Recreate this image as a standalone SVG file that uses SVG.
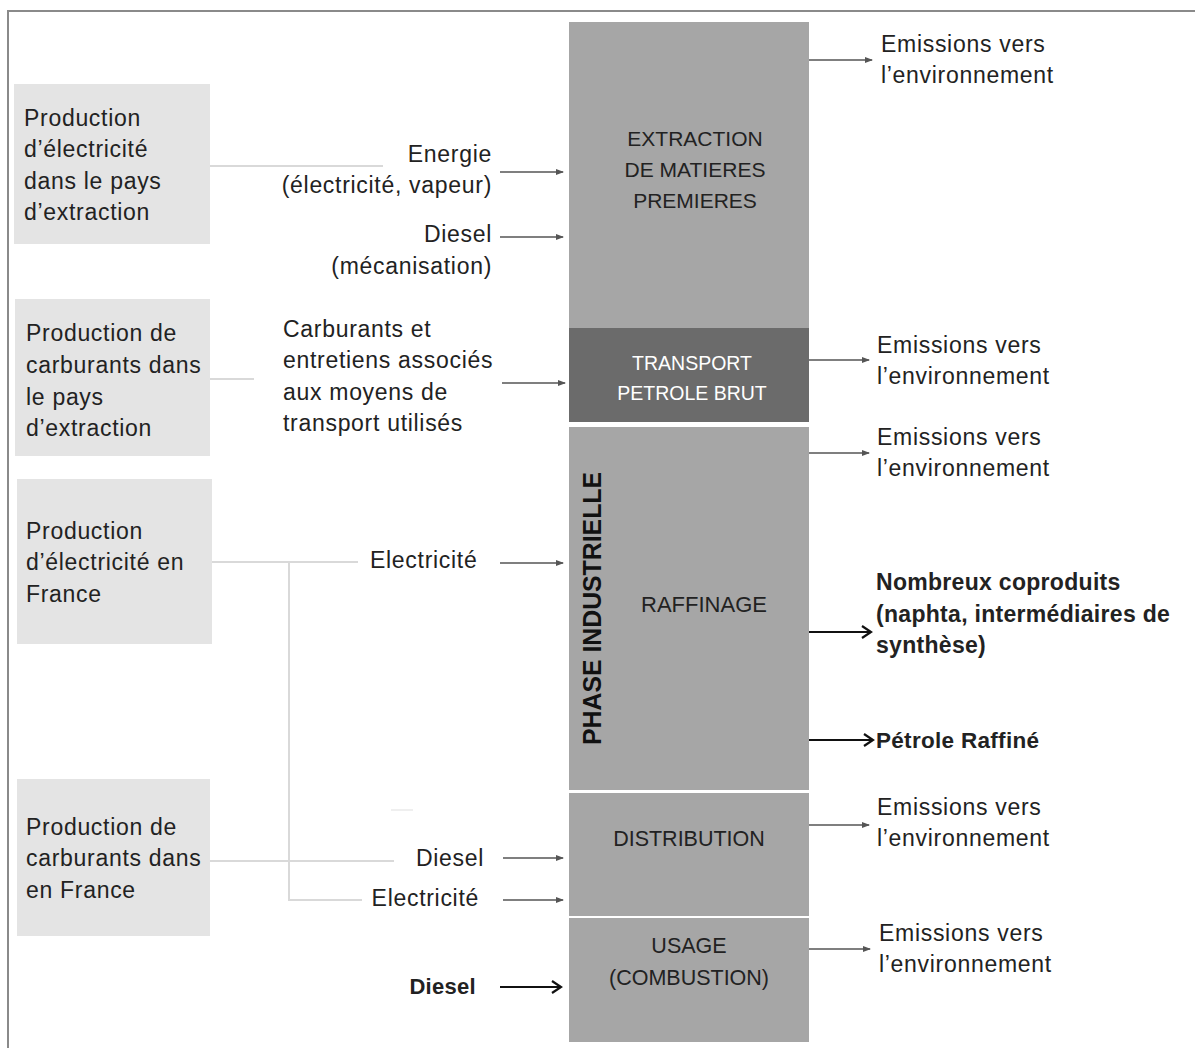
<svg xmlns="http://www.w3.org/2000/svg" width="1195" height="1048" viewBox="0 0 1195 1048">
<style>
text{font-family:"Liberation Sans",Arial,sans-serif;fill:#222;font-size:23px;letter-spacing:0.7px}
.src{fill:#e4e4e4}
.col{fill:#a6a6a6}
.dark{fill:#6b6b6b}
.ctr{text-anchor:middle;font-size:21px;letter-spacing:0}
.end{text-anchor:end}
.b{font-weight:bold;letter-spacing:0.3px}
.feed{stroke:#d9d9d9;stroke-width:2;fill:none}
.arr{stroke:#555;stroke-width:1.5;fill:none;marker-end:url(#ah)}
.barr{stroke:#111;stroke-width:2.2;fill:none;marker-end:url(#oh)}
</style>
<defs>
<marker id="ah" markerWidth="8" markerHeight="8" refX="7" refY="4" orient="auto" markerUnits="userSpaceOnUse">
<path d="M0,1 L8,4 L0,7 Z" fill="#555"/>
</marker>
<marker id="oh" markerWidth="14" markerHeight="14" refX="12" refY="7" orient="auto" markerUnits="userSpaceOnUse">
<path d="M3,1 L12,7 L3,13" fill="none" stroke="#111" stroke-width="2.2"/>
</marker>
</defs>
<rect width="1195" height="1048" fill="#fff"/>
<path d="M8,1048 L8,11 L1195,11" stroke="#8a8a8a" stroke-width="2" fill="none"/>

<g id="connectors">
<path class="feed" d="M210,166 L383,166"/>
<path class="feed" d="M210,379 L254,379"/>
<path class="feed" d="M210,562 L358,562 M289,562 L289,900 L362,900"/>
<path class="feed" d="M210,861 L394,861"/>
<path d="M391,810 L413,810" stroke="#efefef" stroke-width="2"/>
<path class="arr" d="M500,172 L563,172"/>
<path class="arr" d="M500,237 L563,237"/>
<path class="arr" d="M502,383 L565,383"/>
<path class="arr" d="M500,563 L563,563"/>
<path class="arr" d="M503,858 L563,858"/>
<path class="arr" d="M503,900 L563,900"/>
<path class="barr" d="M500,987 L561,987"/>
<path class="arr" d="M809,60 L872,60"/>
<path class="arr" d="M809,360 L869,360"/>
<path class="arr" d="M809,453 L869,453"/>
<path class="arr" d="M809,825 L869,825"/>
<path class="arr" d="M809,949 L870,949"/>
<path class="barr" d="M809,632 L871,632"/>
<path class="barr" d="M809,740 L873,740"/>
</g>

<g id="src1">
<rect class="src" x="14" y="84" width="196" height="160"/>
<text x="24" y="126">Production</text>
<text x="24" y="157">d’électricité</text>
<text x="24" y="189">dans le pays</text>
<text x="24" y="220">d’extraction</text>
</g>
<g id="src2">
<rect class="src" x="15" y="299" width="195" height="157"/>
<text x="26" y="341">Production de</text>
<text x="26" y="373">carburants dans</text>
<text x="26" y="405">le pays</text>
<text x="26" y="436">d’extraction</text>
</g>
<g id="src3">
<rect class="src" x="17" y="479" width="195" height="165"/>
<text x="26" y="539">Production</text>
<text x="26" y="570">d’électricité en</text>
<text x="26" y="602">France</text>
</g>
<g id="src4">
<rect class="src" x="17" y="779" width="193" height="157"/>
<text x="26" y="835">Production de</text>
<text x="26" y="866">carburants dans</text>
<text x="26" y="898">en France</text>
</g>

<g id="labels-in">
<text class="end" x="492" y="162">Energie</text>
<text class="end" x="492" y="193">(électricité, vapeur)</text>
<text class="end" x="492" y="242">Diesel</text>
<text class="end" x="492" y="274">(mécanisation)</text>
<text x="283" y="337">Carburants et</text>
<text x="283" y="368">entretiens associés</text>
<text x="283" y="400">aux moyens de</text>
<text x="283" y="431">transport utilisés</text>
<text x="370" y="568">Electricité</text>
<text class="end" x="484" y="866">Diesel</text>
<text class="end" x="479" y="906">Electricité</text>
<text class="end b" x="476" y="994" style="font-size:22px">Diesel</text>
</g>

<g id="extraction">
<rect class="col" x="569" y="22" width="240" height="306"/>
<text class="ctr" x="695" y="146">EXTRACTION</text>
<text class="ctr" x="695" y="177">DE MATIERES</text>
<text class="ctr" x="695" y="208">PREMIERES</text>
</g>
<g id="transport">
<rect class="dark" x="569" y="328" width="240" height="94"/>
<text class="ctr" x="692" y="370" style="fill:#fff;font-size:19.5px">TRANSPORT</text>
<text class="ctr" x="692" y="400" style="fill:#fff;font-size:19.5px">PETROLE BRUT</text>
</g>
<g id="raffinage">
<rect class="col" x="569" y="427" width="240" height="363"/>
<text class="ctr" x="704" y="612" style="font-size:22px">RAFFINAGE</text>
<text class="b" transform="translate(601,745) rotate(-90)" style="font-size:26px;fill:#111;letter-spacing:0" textLength="273" lengthAdjust="spacingAndGlyphs">PHASE INDUSTRIELLE</text>
</g>
<g id="distribution">
<rect class="col" x="569" y="793" width="240" height="123"/>
<text class="ctr" x="689" y="846" style="font-size:21.5px">DISTRIBUTION</text>
</g>
<g id="usage">
<rect class="col" x="569" y="918" width="240" height="124"/>
<text class="ctr" x="689" y="953" style="font-size:21.5px">USAGE</text>
<text class="ctr" x="689" y="985" style="font-size:21.5px">(COMBUSTION)</text>
</g>

<g id="outputs">
<text x="881" y="52">Emissions vers</text>
<text x="881" y="83">l’environnement</text>
<text x="877" y="353">Emissions vers</text>
<text x="877" y="384">l’environnement</text>
<text x="877" y="445">Emissions vers</text>
<text x="877" y="476">l’environnement</text>
<text class="b" x="876" y="590" style="font-size:23px">Nombreux coproduits</text>
<text class="b" x="876" y="622" style="font-size:23px">(naphta, intermédiaires de</text>
<text class="b" x="876" y="653" style="font-size:23px">synthèse)</text>
<text class="b" x="876" y="748" style="font-size:22.5px">Pétrole Raffiné</text>
<text x="877" y="815">Emissions vers</text>
<text x="877" y="846">l’environnement</text>
<text x="879" y="941">Emissions vers</text>
<text x="879" y="972">l’environnement</text>
</g>
</svg>
